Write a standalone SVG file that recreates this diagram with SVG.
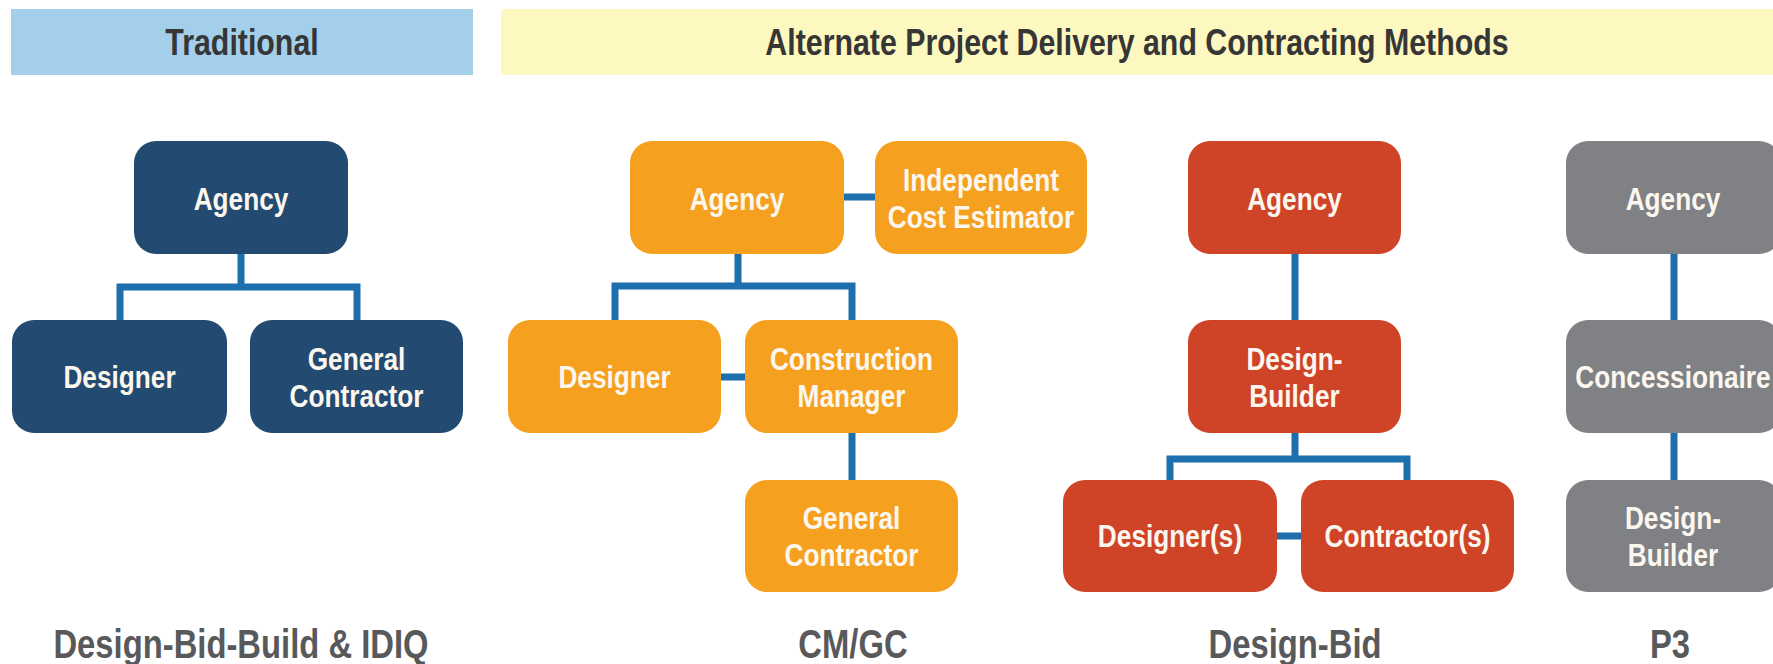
<svg xmlns="http://www.w3.org/2000/svg" width="1773" height="664" viewBox="0 0 1773 664">
<style>
.t{font-family:"Liberation Sans",Arial,sans-serif;font-weight:bold;text-anchor:middle}
.n{font-size:32px;fill:#fbf7ef}
.h{font-size:37px;fill:#363636}
.lb{font-size:40px;fill:#58595b}
.navy{fill:#234a71}
.org{fill:#f6a020}
.red{fill:#cf4427}
.gry{fill:#808184}
.c{fill:none;stroke:#1d6fad;stroke-width:7}
</style>
<rect width="1773" height="664" fill="#ffffff"/>
<g id="header-traditional">
<rect x="11" y="9" width="462" height="66" fill="#a4cfeb"/>
<text class="t h" transform="translate(242 55) scale(.82 1)">Traditional</text>
</g>
<g id="header-alternate">
<rect x="501" y="9" width="1272" height="66" fill="#fdf8bf"/>
<text class="t h" transform="translate(1137 55) scale(.82 1)">Alternate Project Delivery and Contracting Methods</text>
</g>
<g id="connectors">
<path class="c" d="M241 254V287M120 320V287H357V320"/>
<path class="c" d="M738 254V286M615 320V286H852V320M844 197H875M721 377H745M852 433V480"/>
<path class="c" d="M1295 254V320M1295 433V459M1170 480V459H1407V480M1277 536H1301"/>
<path class="c" d="M1674 254V320M1674 433V480"/>
</g>
<g id="dbb-agency"><rect class="navy" x="134" y="141" width="214" height="113" rx="22"/><text class="t n" transform="translate(241 210) scale(.82 1)">Agency</text></g>
<g id="dbb-designer"><rect class="navy" x="12" y="320" width="215" height="113" rx="22"/><text class="t n" transform="translate(119.5 388) scale(.82 1)">Designer</text></g>
<g id="dbb-gc"><rect class="navy" x="250" y="320" width="213" height="113" rx="22"/><text class="t n" transform="translate(356.5 370) scale(.82 1)">General</text><text class="t n" transform="translate(356.5 407) scale(.82 1)">Contractor</text></g>
<g id="cmgc-agency"><rect class="org" x="630" y="141" width="214" height="113" rx="22"/><text class="t n" transform="translate(737 210) scale(.82 1)">Agency</text></g>
<g id="cmgc-ice"><rect class="org" x="875" y="141" width="212" height="113" rx="22"/><text class="t n" transform="translate(981 191) scale(.82 1)">Independent</text><text class="t n" transform="translate(981 228) scale(.82 1)">Cost Estimator</text></g>
<g id="cmgc-designer"><rect class="org" x="508" y="320" width="213" height="113" rx="22"/><text class="t n" transform="translate(614.5 388) scale(.82 1)">Designer</text></g>
<g id="cmgc-cm"><rect class="org" x="745" y="320" width="213" height="113" rx="22"/><text class="t n" transform="translate(851.5 370) scale(.82 1)">Construction</text><text class="t n" transform="translate(851.5 407) scale(.82 1)">Manager</text></g>
<g id="cmgc-gc"><rect class="org" x="745" y="480" width="213" height="112" rx="22"/><text class="t n" transform="translate(851.5 529) scale(.82 1)">General</text><text class="t n" transform="translate(851.5 566) scale(.82 1)">Contractor</text></g>
<g id="db-agency"><rect class="red" x="1188" y="141" width="213" height="113" rx="22"/><text class="t n" transform="translate(1294.5 210) scale(.82 1)">Agency</text></g>
<g id="db-designbuilder"><rect class="red" x="1188" y="320" width="213" height="113" rx="22"/><text class="t n" transform="translate(1294.5 370) scale(.82 1)">Design-</text><text class="t n" transform="translate(1294.5 407) scale(.82 1)">Builder</text></g>
<g id="db-designers"><rect class="red" x="1063" y="480" width="214" height="112" rx="22"/><text class="t n" transform="translate(1170 547) scale(.82 1)">Designer(s)</text></g>
<g id="db-contractors"><rect class="red" x="1301" y="480" width="213" height="112" rx="22"/><text class="t n" transform="translate(1407.5 547) scale(.82 1)">Contractor(s)</text></g>
<g id="p3-agency"><rect class="gry" x="1566" y="141" width="215" height="113" rx="22"/><text class="t n" transform="translate(1673 210) scale(.82 1)">Agency</text></g>
<g id="p3-concessionaire"><rect class="gry" x="1566" y="320" width="215" height="113" rx="22"/><text class="t n" transform="translate(1673 388) scale(.82 1)">Concessionaire</text></g>
<g id="p3-designbuilder"><rect class="gry" x="1566" y="480" width="215" height="112" rx="22"/><text class="t n" transform="translate(1673 529) scale(.82 1)">Design-</text><text class="t n" transform="translate(1673 566) scale(.82 1)">Builder</text></g>
<g id="labels">
<text class="t lb" transform="translate(241 658) scale(.82 1)">Design-Bid-Build &amp; IDIQ</text>
<text class="t lb" transform="translate(853 658) scale(.82 1)">CM/GC</text>
<text class="t lb" transform="translate(1295 658) scale(.82 1)">Design-Bid</text>
<text class="t lb" transform="translate(1670 658) scale(.82 1)">P3</text>
</g>
</svg>
